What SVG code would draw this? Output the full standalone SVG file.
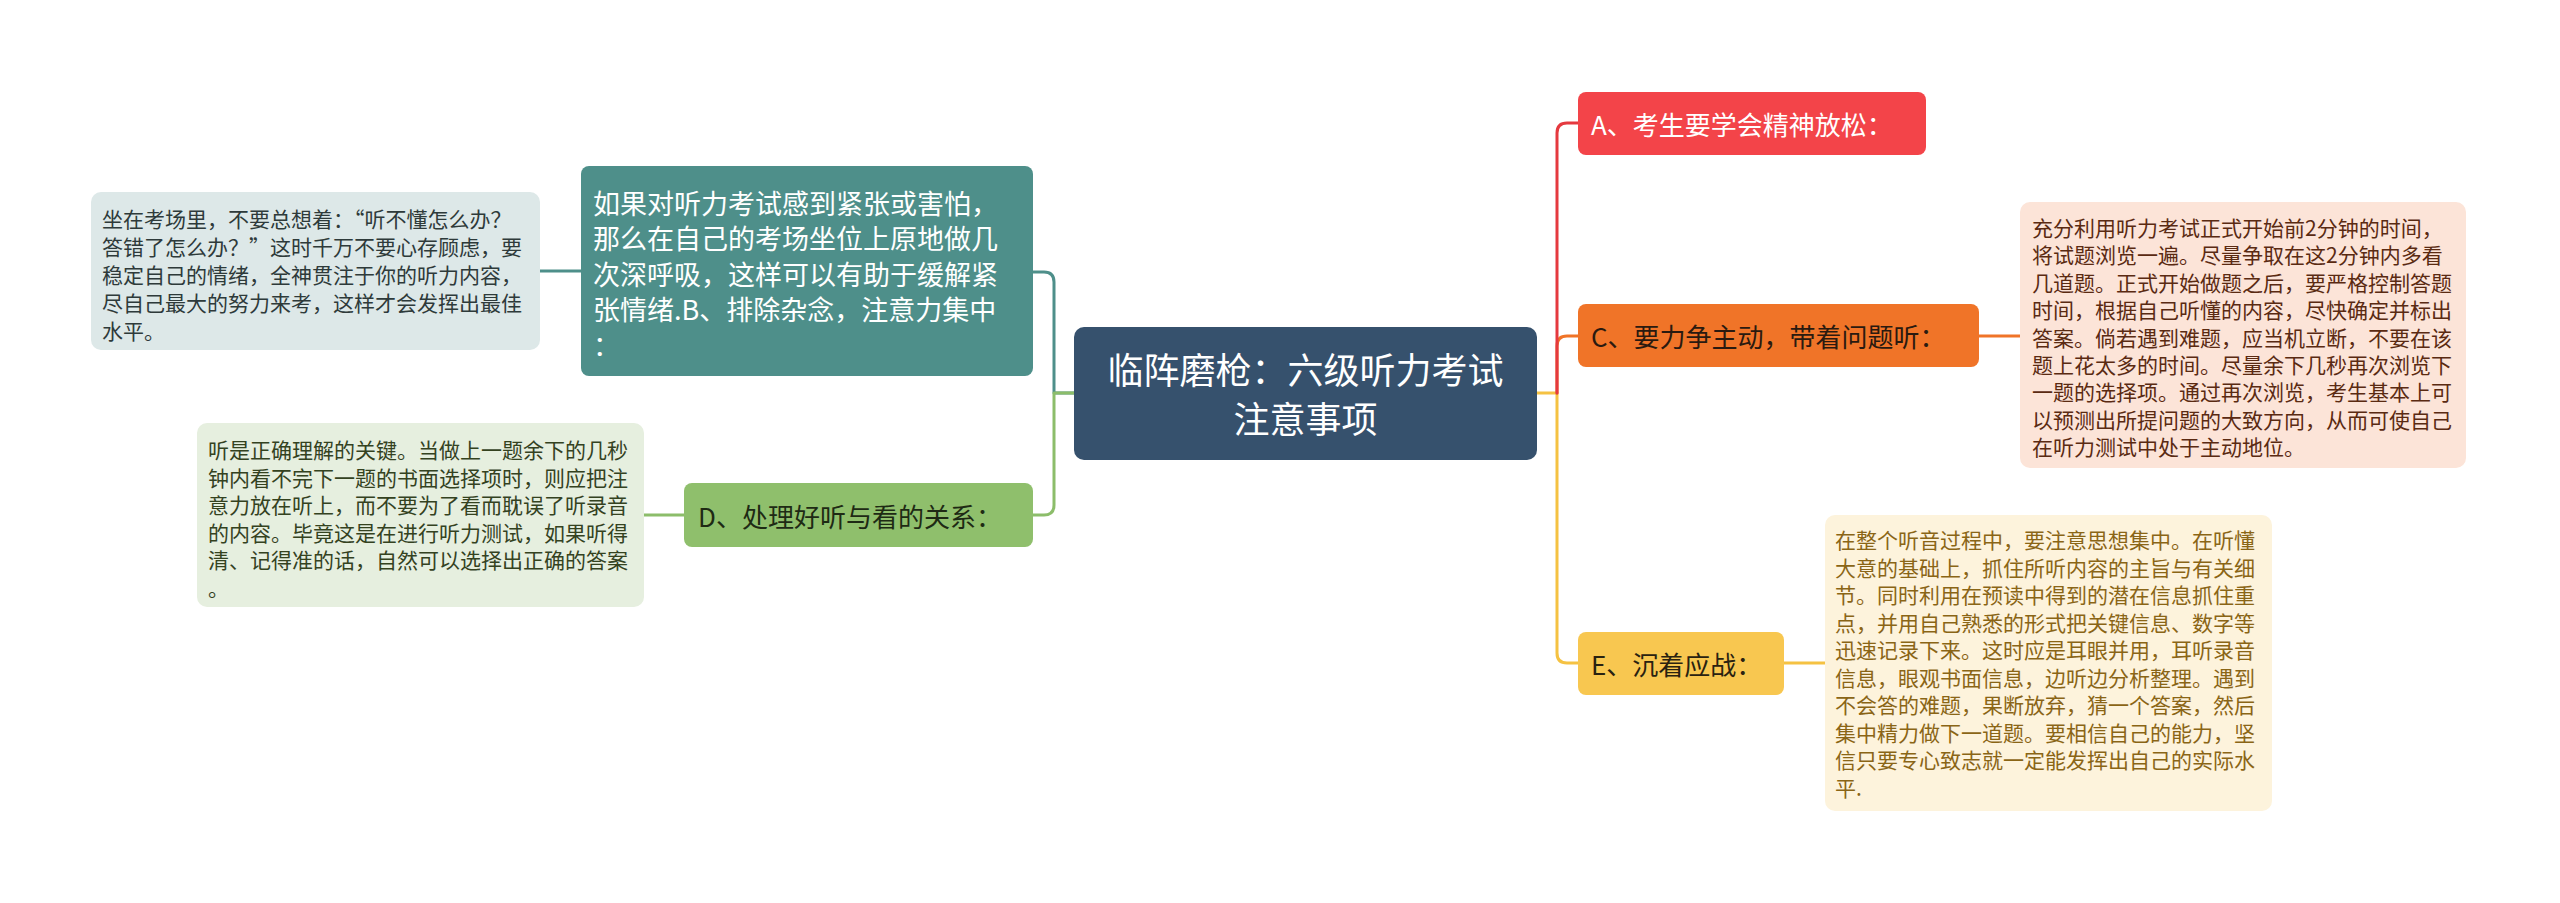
<svg xmlns="http://www.w3.org/2000/svg" width="2560" height="903" viewBox="0 0 2560 903">
<style>
text{font-family:"Noto Sans CJK SC","Noto Sans",sans-serif;dominant-baseline:central}
.ln{fill:none;stroke-width:3;stroke-linecap:round;stroke-linejoin:round}
.dt{font-size:21px}
.nt{font-size:26px}
</style>
<rect width="2560" height="903" fill="#ffffff"/>
<g id="connectors">
<path class="ln" stroke="#4e8f8a" d="M540,271 H581"/>
<path class="ln" stroke="#4e8f8a" d="M1074,393 H1054 V282 Q1054,272 1044,272 H1033"/>
<path class="ln" stroke="#8cbd6a" d="M1074,393 H1054 V505 Q1054,515 1044,515 H1033"/>
<path class="ln" stroke="#8cbd6a" d="M644,515 H684"/>
<path class="ln" stroke="#f5c242" d="M1537,393 H1557 V653 Q1557,663 1567,663 H1578"/>
<path class="ln" stroke="#f07428" d="M1557,393 V346 Q1557,336 1567,336 H1578"/>
<path class="ln" stroke="#e5393f" d="M1557,393 V133 Q1557,123 1567,123 H1578"/>
<path class="ln" stroke="#f07428" d="M1979,336 H2020"/>
<path class="ln" stroke="#f5c242" d="M1784,663 H1825"/>
</g>
<g id="center">
<rect x="1074" y="327" width="463" height="133" rx="10" fill="#36516d"/>
<text x="1305.5" y="368" font-size="36" fill="#ffffff" text-anchor="middle">临阵磨枪：六级听力考试</text>
<text x="1305.5" y="417" font-size="36" fill="#ffffff" text-anchor="middle">注意事项</text>
</g>
<g id="nodeA">
<rect x="1578" y="92" width="348" height="63" rx="8" fill="#f34449"/>
<text class="nt" x="1591" y="123.5" fill="#ffffff">A、考生要学会精神放松：</text>
</g>
<g id="nodeC">
<rect x="1578" y="304" width="401" height="63" rx="8" fill="#f07428"/>
<text class="nt" x="1591" y="335.5" fill="#2a1a10">C、要力争主动，带着问题听：</text>
</g>
<g id="nodeC-detail">
<rect x="2020" y="202" width="446" height="266" rx="10" fill="#fce4d8"/>
<g class="dt" fill="#5a2a12">
<text x="2032" y="227">充分利用听力考试正式开始前2分钟的时间，</text>
<text x="2032" y="254.4">将试题浏览一遍。尽量争取在这2分钟内多看</text>
<text x="2032" y="281.8">几道题。正式开始做题之后，要严格控制答题</text>
<text x="2032" y="309.2">时间，根据自己听懂的内容，尽快确定并标出</text>
<text x="2032" y="336.6">答案。倘若遇到难题，应当机立断，不要在该</text>
<text x="2032" y="364">题上花太多的时间。尽量余下几秒再次浏览下</text>
<text x="2032" y="391.4">一题的选择项。通过再次浏览，考生基本上可</text>
<text x="2032" y="418.8">以预测出所提问题的大致方向，从而可使自己</text>
<text x="2032" y="446.2">在听力测试中处于主动地位。</text>
</g>
</g>
<g id="nodeE">
<rect x="1578" y="632" width="206" height="63" rx="8" fill="#f8c750"/>
<text class="nt" x="1591" y="663.5" fill="#2a2210">E、沉着应战：</text>
</g>
<g id="nodeE-detail">
<rect x="1825" y="515" width="447" height="296" rx="10" fill="#fdf3dc"/>
<g class="dt" fill="#8a6516">
<text x="1835" y="539">在整个听音过程中，要注意思想集中。在听懂</text>
<text x="1835" y="566.5">大意的基础上，抓住所听内容的主旨与有关细</text>
<text x="1835" y="594">节。同时利用在预读中得到的潜在信息抓住重</text>
<text x="1835" y="621.5">点，并用自己熟悉的形式把关键信息、数字等</text>
<text x="1835" y="649">迅速记录下来。这时应是耳眼并用，耳听录音</text>
<text x="1835" y="676.5">信息，眼观书面信息，边听边分析整理。遇到</text>
<text x="1835" y="704">不会答的难题，果断放弃，猜一个答案，然后</text>
<text x="1835" y="731.5">集中精力做下一道题。要相信自己的能力，坚</text>
<text x="1835" y="759">信只要专心致志就一定能发挥出自己的实际水</text>
<text x="1835" y="786.5">平.</text>
</g>
</g>
<g id="nodeB">
<rect x="581" y="166" width="452" height="210" rx="8" fill="#4e8f8a"/>
<g font-size="27" fill="#ffffff">
<text x="593" y="202">如果对听力考试感到紧张或害怕，</text>
<text x="593" y="237.5">那么在自己的考场坐位上原地做几</text>
<text x="593" y="273">次深呼吸，这样可以有助于缓解紧</text>
<text x="593" y="308.5">张情绪.B、排除杂念，注意力集中</text>
<text x="593" y="344">：</text>
</g>
</g>
<g id="nodeB-detail">
<rect x="91" y="192" width="449" height="158" rx="10" fill="#dde8e8"/>
<g class="dt" fill="#2e3a3a">
<text x="102" y="218">坐在考场里，不要总想着：“听不懂怎么办？</text>
<text x="102" y="246">答错了怎么办？”这时千万不要心存顾虑，要</text>
<text x="102" y="274">稳定自己的情绪，全神贯注于你的听力内容，</text>
<text x="102" y="302">尽自己最大的努力来考，这样才会发挥出最佳</text>
<text x="102" y="330">水平。</text>
</g>
</g>
<g id="nodeD">
<rect x="684" y="483" width="349" height="64" rx="8" fill="#8fbf6c"/>
<text class="nt" x="698" y="515" fill="#1e2a14">D、处理好听与看的关系：</text>
</g>
<g id="nodeD-detail">
<rect x="197" y="423" width="447" height="184" rx="10" fill="#e6efdf"/>
<g class="dt" fill="#34421f">
<text x="208" y="449">听是正确理解的关键。当做上一题余下的几秒</text>
<text x="208" y="476.6">钟内看不完下一题的书面选择项时，则应把注</text>
<text x="208" y="504.2">意力放在听上，而不要为了看而耽误了听录音</text>
<text x="208" y="531.8">的内容。毕竟这是在进行听力测试，如果听得</text>
<text x="208" y="559.4">清、记得准的话，自然可以选择出正确的答案</text>
<text x="208" y="587">。</text>
</g>
</g>
</svg>
